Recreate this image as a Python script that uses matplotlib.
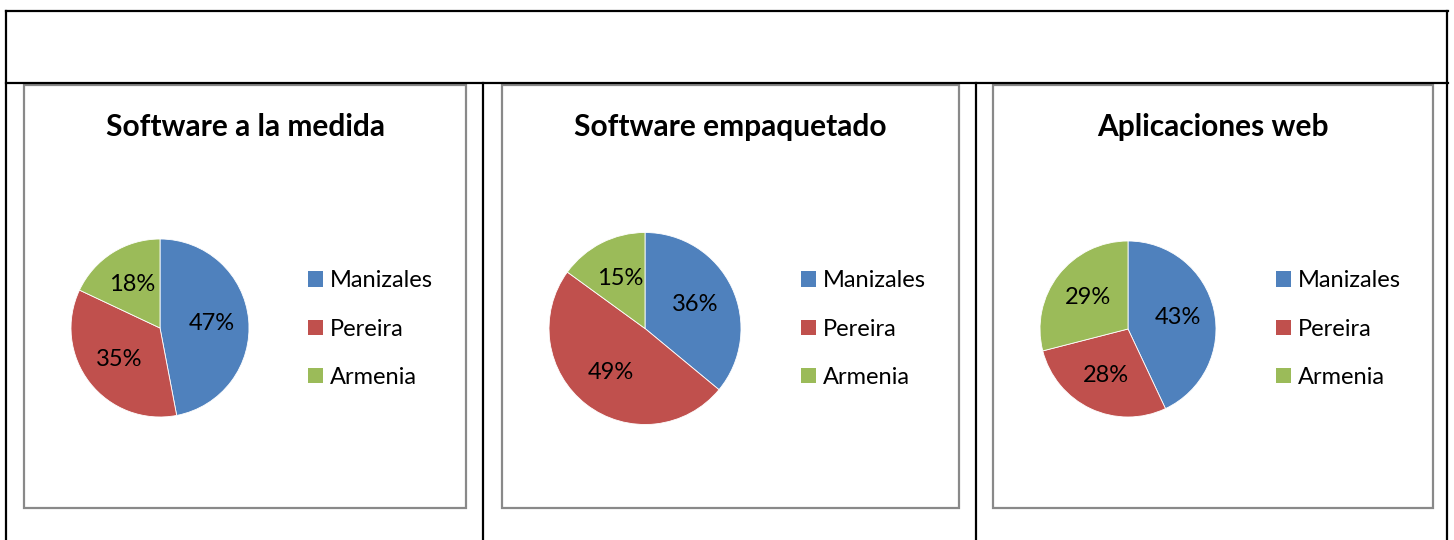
import matplotlib
matplotlib.use('Agg')
from matplotlib import pyplot as plt
from matplotlib.patches import Rectangle, Patch
from matplotlib.lines import Line2D

# data ---------------------------------------------------------------
titles = ['Software a la medida', 'Software empaquetado', 'Aplicaciones web']
cities = ['Manizales', 'Pereira', 'Armenia']
medida = [47, 35, 18]
empaquetado = [36, 49, 15]
web = [43, 28, 29]
colors = ['#4F81BD', '#C0504D', '#9BBB59']

W, H = 1454, 540
plt.rcParams['font.family'] = ['Lato', 'DejaVu Sans']

fig = plt.figure(figsize=(W / 100, H / 100), dpi=100)

def fx(px):
    return px / W

def fy(py):
    return 1 - py / H

# table grid (black lines)
def hline(y, x0, x1):
    fig.add_artist(Line2D([fx(x0), fx(x1)], [fy(y), fy(y)], color='black', lw=1.6))

def vline(x, y0, y1):
    fig.add_artist(Line2D([fx(x), fx(x)], [fy(y0), fy(y1)], color='black', lw=1.6))

hline(11, 6, 1448)
hline(83, 6, 1448)
vline(6, 11, 540)
vline(1447, 11, 540)
vline(483, 83, 540)
vline(976, 83, 540)

# chart layout in pixels: box (left, right, top, bottom), pie centre + radius, legend x
boxes = [(24, 466, 85, 508), (502, 959, 85, 508), (993, 1433, 85, 508)]
pies = [(160, 328, 89), (645, 328.5, 96), (1128, 329, 88)]
leg_x = [308, 801, 1276]
series = [medida, empaquetado, web]

for i in range(3):
    l, r, t, b = boxes[i]
    fig.add_artist(Rectangle((fx(l), fy(b)), fx(r - l), (b - t) / H,
                             facecolor='none', edgecolor='#898989', lw=1.6))
    fig.text(fx((l + r) / 2), fy(127), titles[i], ha='center', va='center',
             fontsize=21.5, fontweight='bold')

    cx, cy, rad = pies[i]
    ax = fig.add_axes([fx(cx - rad), fy(cy + rad), 2 * rad / W, 2 * rad / H])
    wedges, texts, autotexts = ax.pie(series[i], colors=colors, startangle=90,
                                      counterclock=False, autopct='%1.0f%%',
                                      pctdistance=0.58, radius=1,
                                      wedgeprops=dict(edgecolor='white', linewidth=0.6),
                                      textprops=dict(fontsize=17, color='black'))
    ax.set_xlim(-1, 1)
    ax.set_ylim(-1, 1)
    ax.set_aspect('equal')
    ax.axis('off')

    handles = [Patch(facecolor=c, edgecolor='none') for c in colors]
    fig.legend(handles, cities, loc='center left',
               bbox_to_anchor=(fx(leg_x[i]), fy(329)), frameon=False,
               fontsize=17, handlelength=0.62, handleheight=0.62,
               handletextpad=0.3, labelspacing=1.15, borderpad=0,
               borderaxespad=0)

fig.savefig('out.png', dpi=100)
